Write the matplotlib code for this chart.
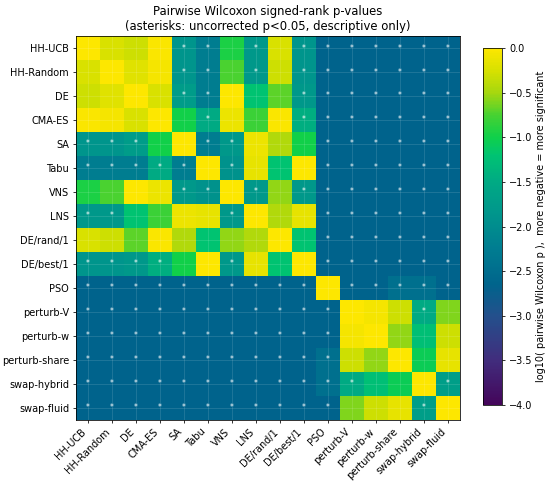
import matplotlib
matplotlib.use("Agg")
import matplotlib.pyplot as plt
from matplotlib.colors import LinearSegmentedColormap
import numpy as np

labels = ["HH-UCB", "HH-Random", "DE", "CMA-ES", "SA", "Tabu", "VNS", "LNS",
          "DE/rand/1", "DE/best/1", "PSO", "perturb-V", "perturb-w",
          "perturb-share", "swap-hybrid", "swap-fluid"]

# log10 of pairwise p-values (floor of the exact test for the small sample)
D = -2.65
logp = np.array([
    # HH-UCB HH-Rnd  DE    CMA    SA    Tabu   VNS    LNS   rand1  best1  PSO  pV  pw  pshare shyb sfluid
    [0.00, -0.25, -0.30, -0.02, -1.85, -2.25, -0.95, -1.80, -0.25, -1.85, D, D, D, D, D, D],
    [-0.25, 0.00, -0.20, -0.05, -1.85, -2.25, -0.75, -1.80, -0.30, -1.85, D, D, D, D, D, D],
    [-0.30, -0.20, 0.00, -0.25, -1.75, -2.25, 0.00, -1.20, -0.70, -1.80, D, D, D, D, D, D],
    [-0.02, -0.05, -0.25, 0.00, -1.00, -1.50, -0.12, -0.80, -0.02, -1.45, D, D, D, D, D, D],
    [-1.85, -1.85, -1.75, -1.00, 0.00, -2.25, -1.80, -0.12, -0.45, -1.00, D, D, D, D, D, D],
    [-2.25, -2.25, -2.25, -1.50, -2.25, 0.00, -1.90, -0.15, -1.20, 0.00, D, D, D, D, D, D],
    [-0.95, -0.75, 0.00, -0.12, -1.80, -1.90, 0.00, -1.80, -0.55, -1.80, D, D, D, D, D, D],
    [-1.80, -1.80, -1.20, -0.80, -0.12, -0.15, -1.80, 0.00, -0.45, -0.15, D, D, D, D, D, D],
    [-0.25, -0.30, -0.70, -0.02, -0.45, -1.20, -0.55, -0.45, 0.00, -1.20, D, D, D, D, D, D],
    [-1.85, -1.85, -1.80, -1.45, -1.00, 0.00, -1.80, -0.15, -1.20, 0.00, D, D, D, D, D, D],
    [D, D, D, D, D, D, D, D, D, D, 0.00, D, D, -2.45, -2.45, D],
    [D, D, D, D, D, D, D, D, D, D, D, 0.00, -0.05, -0.30, -1.50, -0.60],
    [D, D, D, D, D, D, D, D, D, D, D, -0.05, 0.00, -0.55, -1.25, -0.30],
    [D, D, D, D, D, D, D, D, D, D, -2.45, -0.30, -0.55, 0.00, -1.05, -0.15],
    [D, D, D, D, D, D, D, D, D, D, -2.45, -1.50, -1.25, -1.05, 0.00, -1.70],
    [D, D, D, D, D, D, D, D, D, D, D, -0.60, -0.30, -0.15, -1.70, 0.00],
])

# viridis-like colormap, matched to the vivid colours of the reference colorbar
vmin, vmax = -4.0, 0.0
cmap_stops = [-4.0, -3.5, -3.0, -2.65, -2.25, -1.85, -1.5, -1.2, -1.0, -0.75, -0.5, -0.25, 0.0]
cmap_rgb = [(68, 5, 90), (65, 45, 125), (35, 80, 140), (0, 100, 140), (0, 125, 145),
            (0, 150, 140), (0, 170, 132), (0, 195, 115), (15, 208, 75), (70, 210, 50),
            (165, 215, 15), (215, 225, 0), (253, 231, 0)]
cmap = LinearSegmentedColormap.from_list(
    "vivid_viridis",
    [((s - vmin) / (vmax - vmin), tuple(c / 255 for c in rgb)) for s, rgb in zip(cmap_stops, cmap_rgb)],
)

fig = plt.figure(figsize=(550 / 70, 484 / 70), dpi=70)
ax = fig.add_axes([0.138, 0.132, 0.698, 0.794])
im = ax.imshow(logp, cmap=cmap, vmin=vmin, vmax=vmax, aspect="equal")

n = len(labels)
ax.set_xticks(range(n))
ax.set_yticks(range(n))
ax.set_xticklabels(labels, rotation=45, ha="right", fontsize=10)
ax.set_yticklabels(labels, fontsize=10)
ax.grid(True, color="white", alpha=0.15, linewidth=0.8)

for i in range(n):
    for j in range(n):
        if logp[i, j] < np.log10(0.05):
            ax.text(j, i, "*", ha="center", va="center", color="white", fontsize=8)

ax.set_title("Pairwise Wilcoxon signed-rank p-values\n(asterisks: uncorrected p<0.05, descriptive only)",
             fontsize=12)

cax = fig.add_axes([0.878, 0.163, 0.035, 0.738])
cb = fig.colorbar(im, cax=cax)
cb.set_ticks(np.arange(-4, 0.01, 0.5))
cb.ax.tick_params(labelsize=10)
cb.set_label("log10( pairwise Wilcoxon p ),  more negative = more significant", fontsize=10)

fig.savefig("out.png", dpi=70)
